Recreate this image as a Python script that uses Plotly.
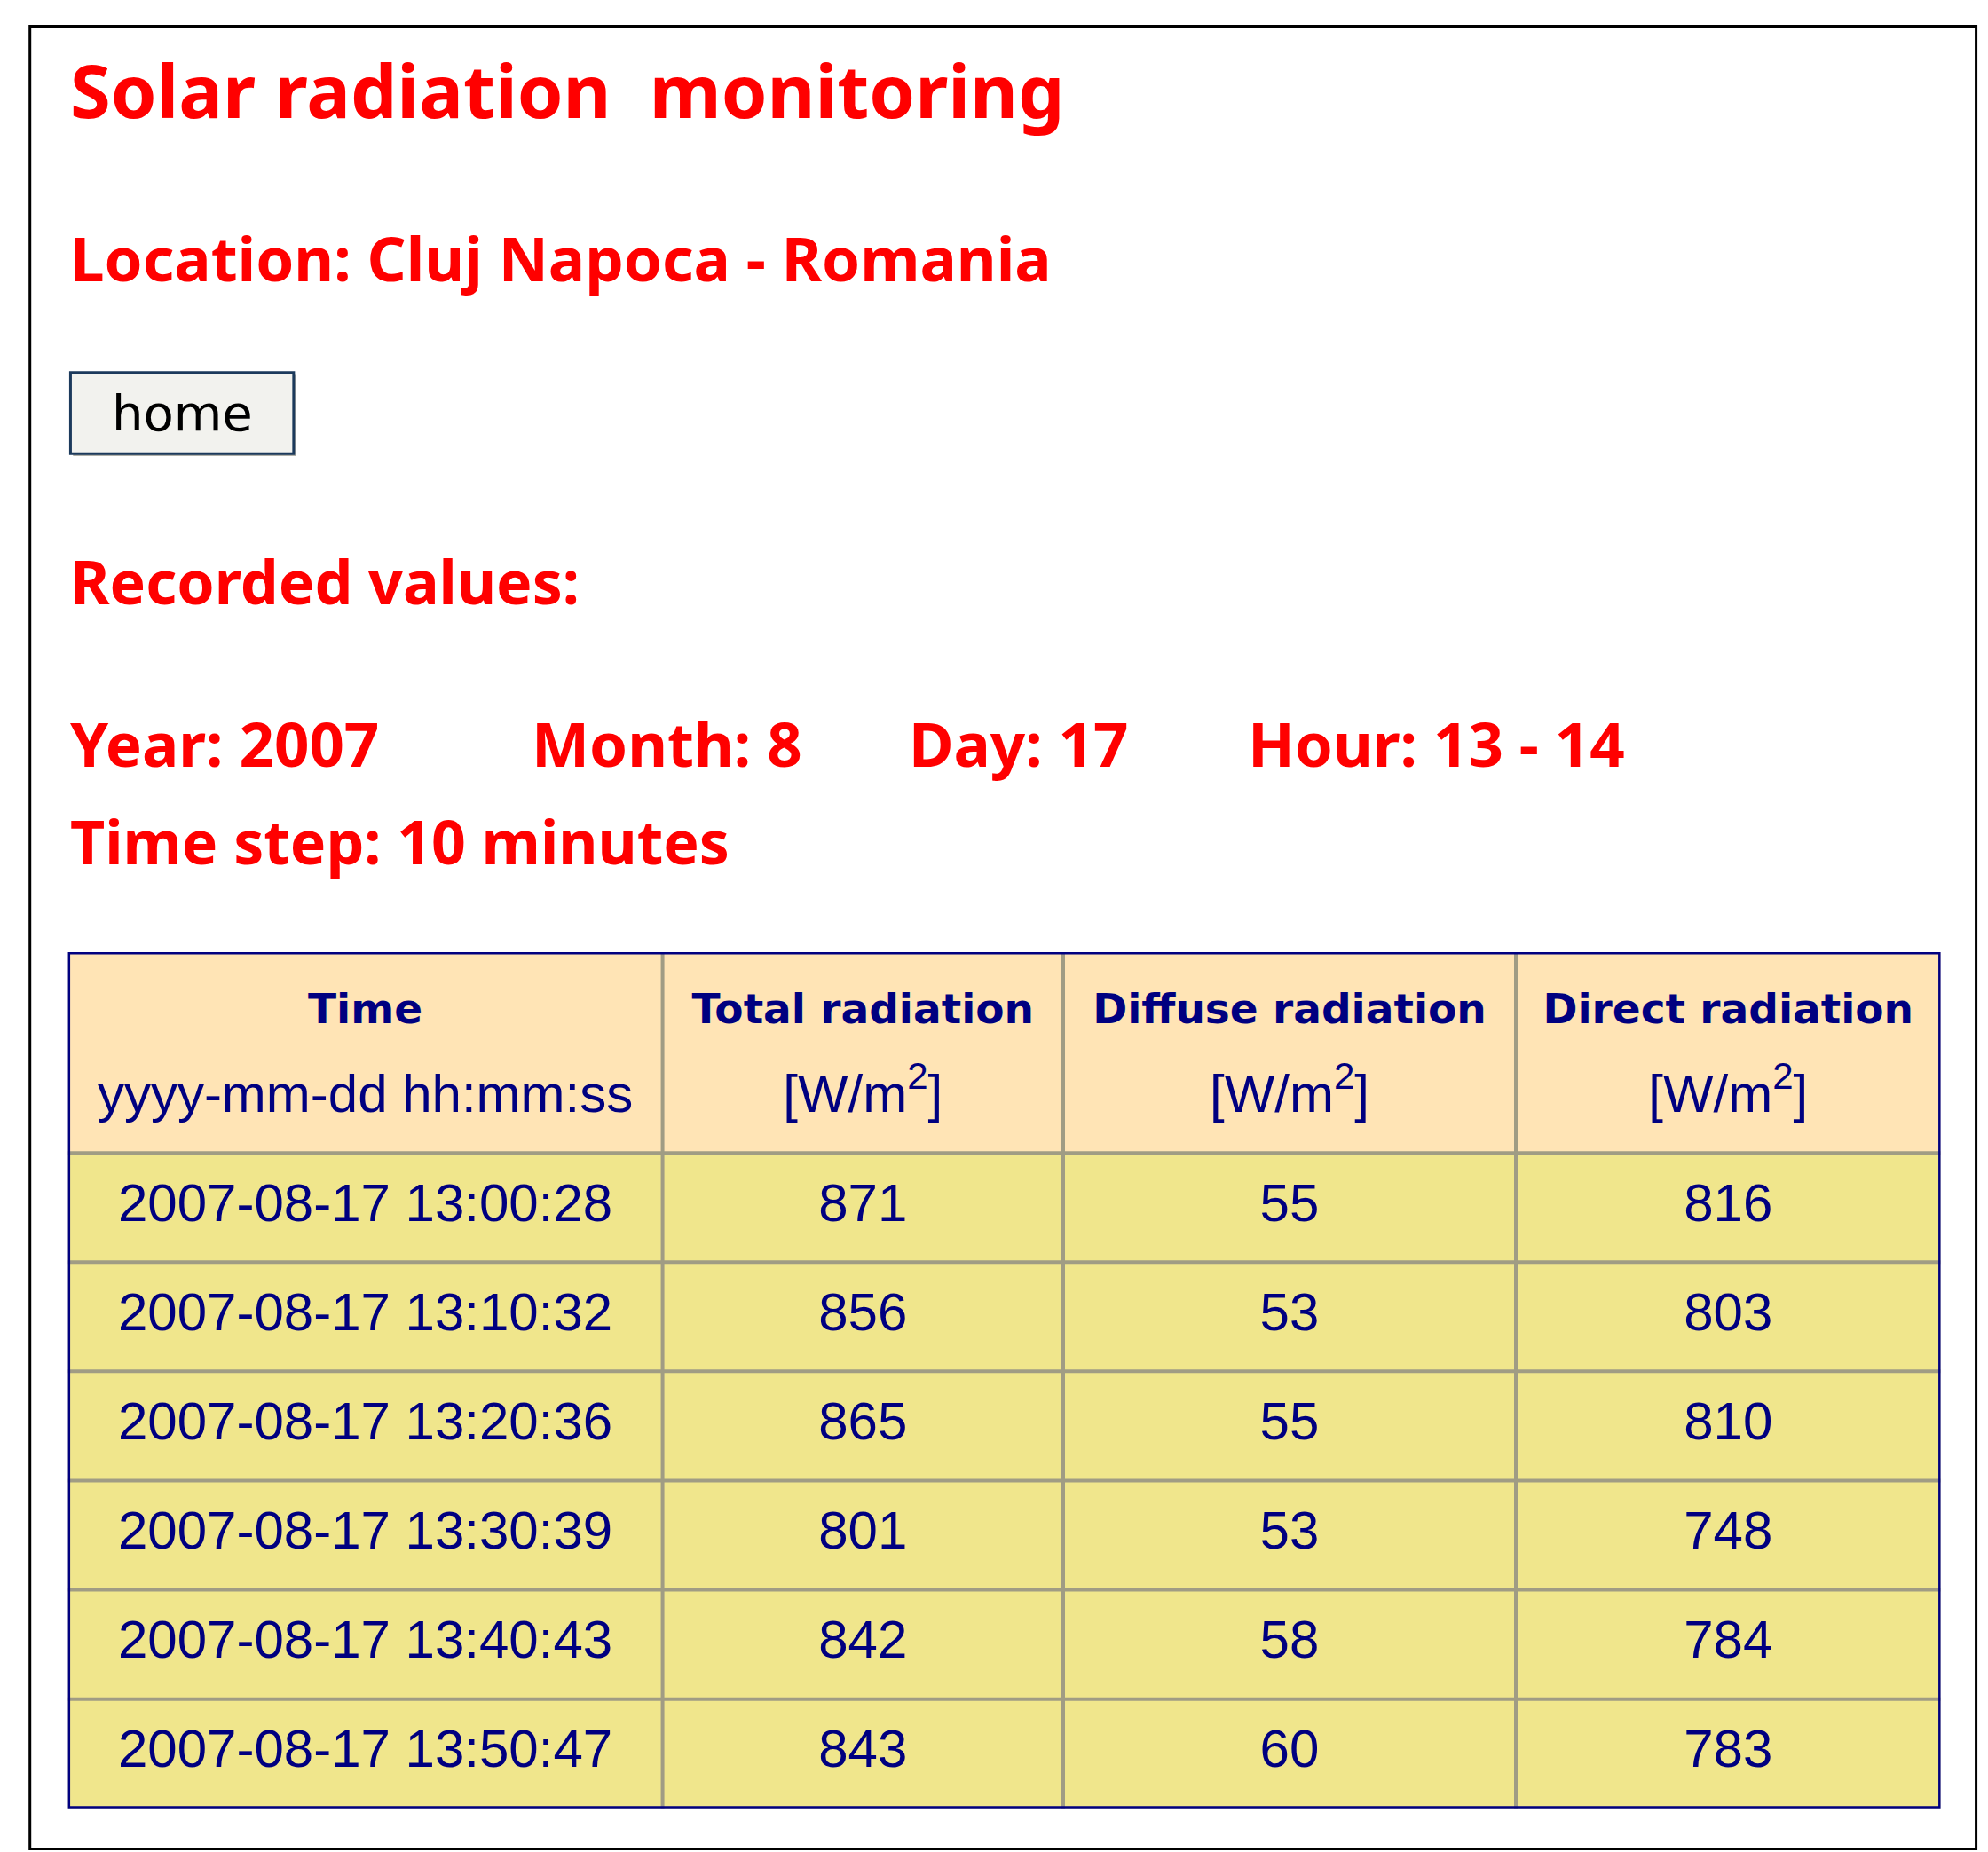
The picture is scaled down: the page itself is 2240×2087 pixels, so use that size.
import plotly.graph_objects as go

W, H = 2240, 2087
S = 1568.0
SY = 1460.0

times = ["2007-08-17 13:00:28", "2007-08-17 13:10:32", "2007-08-17 13:20:36",
         "2007-08-17 13:30:39", "2007-08-17 13:40:43", "2007-08-17 13:50:47"]
total = [871, 856, 865, 801, 842, 843]
diffuse = [55, 53, 55, 53, 58, 60]
direct = [816, 803, 810, 748, 784, 783]
head_titles = ["Time", "Total radiation", "Diffuse radiation", "Direct radiation"]
head_units = ["yyyy-mm-dd hh:mm:ss", "[W/m<sup>2</sup>]", "[W/m<sup>2</sup>]", "[W/m<sup>2</sup>]"]
col_w = [469, 316, 357, 335]
HEAD_H, ROW_H = 158, 86

def px(x): return x / S
def py(y): return 1 - y / SY

navy = "#000080"
red = "#FF0000"
grid = "#A09C84"
tfont = "Comic Sans MS, Noto Sans, DejaVu Sans"

edges = [0]
for w in col_w:
    edges.append(edges[-1] + w)
centers = [(edges[i] + edges[i + 1]) / 2 for i in range(4)]
n = len(times)
total_h = HEAD_H + ROW_H * n
row_c = [HEAD_H + ROW_H * (i + 0.5) for i in range(n)]

shapes = []
# header fill
shapes.append(dict(type="rect", xref="x", yref="y", x0=0, x1=edges[-1], y0=0, y1=HEAD_H,
                   fillcolor="#FFE4B5", line=dict(width=0), layer="below"))
shapes.append(dict(type="rect", xref="x", yref="y", x0=0, x1=edges[-1], y0=HEAD_H, y1=total_h,
                   fillcolor="#F0E68C", line=dict(width=0), layer="below"))
for e in edges[1:-1]:
    shapes.append(dict(type="line", xref="x", yref="y", x0=e, x1=e, y0=0, y1=total_h,
                       line=dict(color=grid, width=4)))
for i in range(n):
    yy = HEAD_H + ROW_H * i
    shapes.append(dict(type="line", xref="x", yref="y", x0=0, x1=edges[-1], y0=yy, y1=yy,
                       line=dict(color=grid, width=4)))
shapes.append(dict(type="rect", xref="x", yref="y", x0=0, x1=edges[-1], y0=0, y1=total_h,
                   line=dict(color=navy, width=5)))
shapes += [
    dict(type="rect", xref="paper", yref="paper", x0=px(18), x1=px(1553),
         y0=py(1452), y1=py(15), line=dict(color="black", width=3)),
    dict(type="rect", xref="paper", yref="paper", x0=px(52), x1=px(228),
         y0=py(354), y1=py(290), fillcolor="#B0B0A8", line=dict(width=0)),
    dict(type="rect", xref="paper", yref="paper", x0=px(50), x1=px(226),
         y0=py(352), y1=py(288), fillcolor="#F2F2EE",
         line=dict(color="#1C3A5C", width=3)),
]

fig = go.Figure()
fig.add_trace(go.Scatter(x=centers, y=[48] * 4, mode="text",
                         text=[f"<b>{t}</b>" for t in head_titles],
                         textfont=dict(family="DejaVu Sans, Verdana", size=47, color=navy),
                         hoverinfo="skip"))
fig.add_trace(go.Scatter(x=centers, y=[115] * 4, mode="text", text=head_units,
                         textfont=dict(family="Liberation Sans, Arial", size=60, color=navy),
                         hoverinfo="skip"))
for ci, col in enumerate([times, total, diffuse, direct]):
    fig.add_trace(go.Scatter(x=[centers[ci]] * n, y=row_c, mode="text",
                             text=[str(v) for v in col],
                             textfont=dict(family="Liberation Sans, Arial", size=60, color=navy),
                             hoverinfo="skip"))

texts = [
    ("<b>Solar radiation  monitoring</b>", 48, 65, 83),
    ("<b>Location: Cluj Napoca - Romania</b>", 48, 197, 69),
    ("<b>Recorded values:</b>", 48, 452, 68),
    ("<b>Year: 2007</b>", 48, 580, 69),
    ("<b>Month: 8</b>", 412, 580, 69),
    ("<b>Day: 17</b>", 710, 580, 69),
    ("<b>Hour: 13 - 14</b>", 977, 580, 69),
    ("<b>Time step: 10 minutes</b>", 48, 657, 68),
]
ann = [dict(text=t, x=px(x), y=py(y), xref="paper", yref="paper", xanchor="left",
            yanchor="middle", showarrow=False,
            font=dict(family=tfont, size=s, color=red)) for t, x, y, s in texts]
ann.append(dict(text="home", x=px(138), y=py(320), xref="paper", yref="paper",
                xanchor="center", yanchor="middle", showarrow=False,
                font=dict(family="DejaVu Sans", size=56, color="black")))

fig.update_layout(width=W, height=H, margin=dict(l=0, r=0, t=0, b=0),
                  paper_bgcolor="white", plot_bgcolor="white", showlegend=False,
                  shapes=shapes, annotations=ann,
                  xaxis=dict(domain=[px(48), px(1525)], range=[0, edges[-1]], visible=False,
                             fixedrange=True),
                  yaxis=dict(domain=[py(1420), py(745)], range=[total_h, 0], visible=False,
                             fixedrange=True))
fig.write_html("out.html")
